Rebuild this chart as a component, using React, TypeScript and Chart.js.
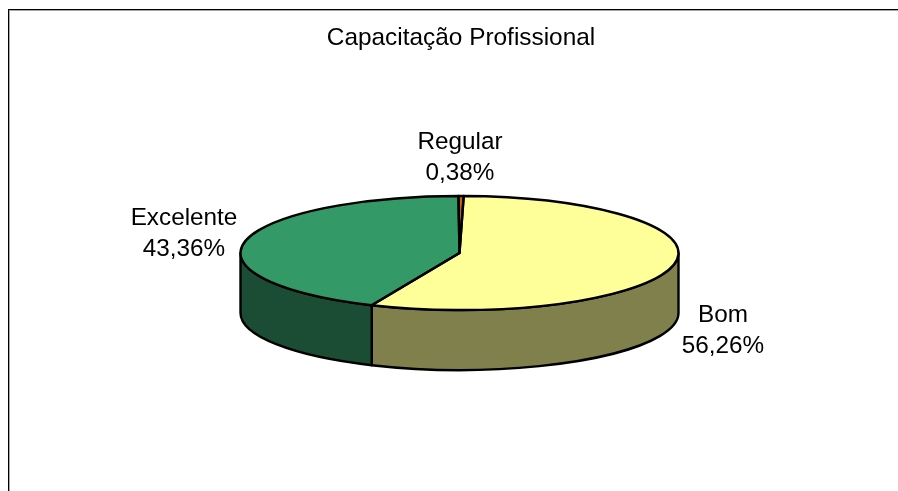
import React, { useEffect, useRef } from "react";
import { Chart, registerables } from "chart.js";

Chart.register(...registerables);

const categories = ["Bom", "Excelente", "Regular"];
const values = [56.26, 43.36, 0.38];
const valueLabels = ["56,26%", "43,36%", "0,38%"];
const topColors = ["#FFFF99", "#339966", "#CC6600"];
const sideColors = ["#80804D", "#1A4D33", "#663300"];
const chartTitle = "Capacitação Profissional";

const FONT = "Liberation Sans, Arial, sans-serif";
const RX = 219;
const RY = 57;
const CX = 459.5;
const CY = 253;
const DEPTH = 60;
const LABEL_POS = [
  { x: 723, y: 315 },
  { x: 184, y: 218 },
  { x: 460, y: 142 },
];

const pie3d = {
  id: "pie3d",
  beforeDraw(chart: any) {
    const { ctx } = chart;
    ctx.save();
    ctx.fillStyle = "#ffffff";
    ctx.fillRect(0, 0, chart.width, chart.height);
    ctx.fillStyle = "#a8a8a8";
    ctx.fillRect(9, 10, chart.width - 9, 1);
    ctx.fillRect(9, 10, 1, chart.height - 10);
    ctx.fillStyle = "#000000";
    ctx.fillRect(8, 9, chart.width - 8, 1);
    ctx.fillRect(8, 9, 1, chart.height - 9);
    ctx.restore();
  },
  beforeDatasetsDraw(chart: any) {
    const { ctx } = chart;
    const arcs = chart.getDatasetMeta(0).data;
    ctx.save();
    ctx.lineWidth = 2.4;
    ctx.strokeStyle = "#000000";
    ctx.lineJoin = "round";
    arcs.forEach((el: any, i: number) => {
      const a0 = Math.max(el.startAngle, 0);
      const a1 = Math.min(el.endAngle, Math.PI);
      if (a1 <= a0) return;
      ctx.beginPath();
      ctx.ellipse(CX, CY, RX, RY, 0, a0, a1);
      ctx.lineTo(CX + RX * Math.cos(a1), CY + RY * Math.sin(a1) + DEPTH);
      ctx.ellipse(CX, CY + DEPTH, RX, RY, 0, a1, a0, true);
      ctx.closePath();
      ctx.fillStyle = sideColors[i];
      ctx.fill();
      ctx.stroke();
    });
    ctx.restore();
    const c = arcs[0];
    ctx.save();
    ctx.translate(CX, CY);
    ctx.scale(1, RY / RX);
    ctx.translate(-c.x, -c.y);
  },
  afterDatasetsDraw(chart: any) {
    const { ctx } = chart;
    ctx.restore();
    const arcs = chart.getDatasetMeta(0).data;
    ctx.save();
    ctx.lineWidth = 2.4;
    ctx.strokeStyle = "#000000";
    ctx.lineJoin = "round";
    arcs.forEach((el: any) => {
      ctx.beginPath();
      ctx.moveTo(CX, CY);
      ctx.ellipse(CX, CY, RX, RY, 0, el.startAngle, el.endAngle);
      ctx.closePath();
      ctx.stroke();
    });
    ctx.fillStyle = "#000000";
    ctx.font = `24.3px ${FONT}`;
    ctx.textAlign = "center";
    ctx.textBaseline = "middle";
    categories.forEach((name, i) => {
      ctx.fillText(name, LABEL_POS[i].x, LABEL_POS[i].y);
      ctx.fillText(valueLabels[i], LABEL_POS[i].x, LABEL_POS[i].y + 31);
    });
    ctx.restore();
  },
};

export default function App() {
  const ref = useRef<HTMLCanvasElement>(null);
  useEffect(() => {
    document.body.style.margin = "0";
    const chart = new Chart(ref.current!, {
      type: "pie",
      data: {
        labels: categories,
        datasets: [{ data: values, backgroundColor: topColors, borderWidth: 0 }],
      },
      options: {
        responsive: false,
        animation: false,
        radius: RX,
        rotation: 1.1,
        layout: { padding: { left: 24, right: 0, top: 0, bottom: 0 } },
        plugins: {
          legend: { display: false },
          tooltip: { enabled: false },
          title: {
            display: true,
            text: chartTitle,
            color: "#000000",
            fullSize: true,
            font: { family: FONT, size: 24.4, weight: "normal" },
            padding: { top: 24, bottom: 10 },
          },
        },
      } as any,
      plugins: [pie3d],
    });
    return () => chart.destroy();
  }, []);
  return <canvas ref={ref} width={898} height={491} style={{ display: "block" }} />;
}
